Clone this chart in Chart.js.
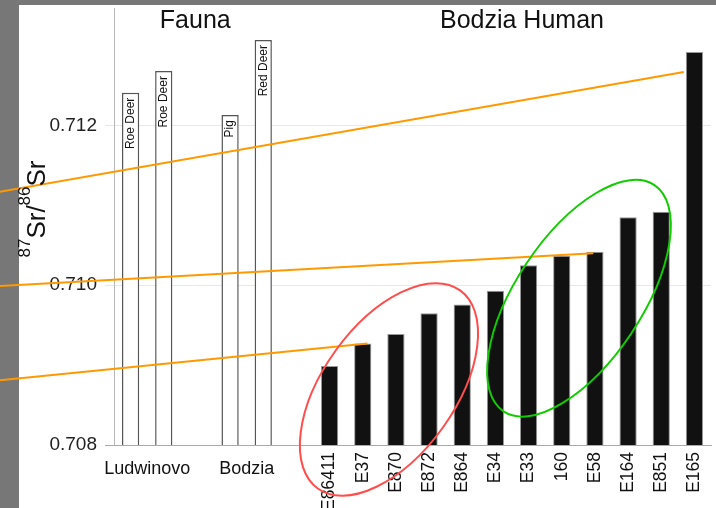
<!DOCTYPE html>
<html>
<head>
<meta charset="utf-8">
<script src="https://cdn.jsdelivr.net/npm/chart.js@4"></script>
<style>
  html, body { margin: 0; padding: 0; background: #fff; }
  canvas { display: block; }
</style>
</head>
<body>
<canvas id="srChart" width="716" height="508"></canvas>
<script>
// Chart data
const faunaNames = ['Roe Deer', 'Roe Deer', '', 'Pig', 'Red Deer'];
const faunaValues = [0.71241, 0.71268, null, 0.71213, 0.71307];
const humanIds = ['E86411', 'E37', 'E870', 'E872', 'E864', 'E34', 'E33', '160', 'E58', 'E164', 'E851', 'E165'];
const humanValues = [0.70899, 0.70927, 0.70939, 0.70965, 0.70976, 0.70993, 0.71025, 0.71037, 0.71042, 0.71085, 0.71092, 0.71292];
const yTicks = [0.708, 0.710, 0.712];

// site names under the fauna bars, placed at slot positions
const siteNames = ['Ludwinovo', 'Bodzia'];
const siteSlots = [0.5, 3.5];
const groupTitles = ['Fauna', 'Bodzia Human'];
const groupSlots = [1.95, 11.8];

// orange mixing lines (slot position, ratio)
const lineUpper = [{ x: -3.94, y: 0.71117 }, { x: 16.68, y: 0.71267 }];
const lineMiddle = [{ x: -3.94, y: 0.70999 }, { x: 13.95, y: 0.71040 }];
const lineLower = [{ x: -3.94, y: 0.70881 }, { x: 7.14, y: 0.70927 }];

// circled groups: centre (slot, ratio)
const redGroup = { x: 7.79, y: 0.708695 };
const greenGroup = { x: 13.52, y: 0.709837 };

const FONT = "'Liberation Sans', Arial, sans-serif";

// one empty slot between the fauna and the human bars
const slotLabels = faunaNames.concat([''], humanIds);
const faunaData = faunaValues.concat(new Array(1 + humanIds.length).fill(null));
const humanData = new Array(faunaNames.length + 1).fill(null).concat(humanValues);

const decor = {
    id: 'decor',
    beforeDraw(chart) {
        const ctx = chart.ctx;
        ctx.save();
        ctx.fillStyle = '#777';
        ctx.fillRect(0, 0, chart.width, chart.height);
        ctx.fillStyle = '#fff';
        ctx.fillRect(19, 5, chart.width - 19, chart.height - 5);
        ctx.restore();
    },
    afterDatasetsDraw(chart) {
        // species names inside the fauna bars
        const ctx = chart.ctx;
        const meta = chart.getDatasetMeta(3);
        ctx.save();
        ctx.fillStyle = '#111';
        ctx.font = '12px ' + FONT;
        ctx.textAlign = 'right';
        ctx.textBaseline = 'middle';
        faunaNames.forEach((name, i) => {
            const bar = meta.data[i];
            if (!name || !bar) return;
            ctx.save();
            ctx.translate(bar.x, bar.y + 5);
            ctx.rotate(-Math.PI / 2);
            ctx.fillText(name, 0, 0);
            ctx.restore();
        });
        ctx.restore();
    },
    afterDraw(chart) {
        const ctx = chart.ctx;
        const x = chart.scales.x;
        const y = chart.scales.y;
        const bottom = chart.chartArea.bottom;
        ctx.save();
        ctx.fillStyle = '#111';

        // group titles
        ctx.font = '25px ' + FONT;
        ctx.textAlign = 'center';
        ctx.textBaseline = 'alphabetic';
        groupTitles.forEach((t, i) => ctx.fillText(t, x.getPixelForValue(groupSlots[i]), 28));

        // site names
        ctx.font = '18px ' + FONT;
        siteNames.forEach((t, i) => ctx.fillText(t, x.getPixelForValue(siteSlots[i]), bottom + 29));

        // human sample ids, rotated
        ctx.font = '17.5px ' + FONT;
        ctx.textAlign = 'right';
        ctx.textBaseline = 'middle';
        humanIds.forEach((id, i) => {
            const px = x.getPixelForValue(faunaNames.length + 1 + i);
            ctx.save();
            ctx.translate(px, bottom + 7);
            ctx.rotate(-Math.PI / 2);
            ctx.fillText(id, 0, 0);
            ctx.restore();
        });

        // y axis title with superscripts
        const big = '26px ' + FONT;
        const small = '17px ' + FONT;
        const parts = [['87', small, -15], ['Sr/', big, 0], ['86', small, -15], ['Sr', big, 0]];
        let total = 0;
        parts.forEach(p => { ctx.font = p[1]; total += ctx.measureText(p[0]).width; });
        ctx.save();
        ctx.translate(45, 209);
        ctx.rotate(-Math.PI / 2);
        ctx.textAlign = 'left';
        ctx.textBaseline = 'alphabetic';
        let pos = -total / 2;
        parts.forEach(p => {
            ctx.font = p[1];
            ctx.fillText(p[0], pos, p[2]);
            pos += ctx.measureText(p[0]).width;
        });
        ctx.restore();

        // circled groups
        ctx.lineWidth = 2;
        ctx.strokeStyle = '#ff4d4d';
        ctx.beginPath();
        ctx.ellipse(x.getPixelForValue(redGroup.x), y.getPixelForValue(redGroup.y), 122, 66, -54.3 * Math.PI / 180, 0, Math.PI * 2);
        ctx.stroke();
        ctx.strokeStyle = '#11cc00';
        ctx.beginPath();
        ctx.ellipse(x.getPixelForValue(greenGroup.x), y.getPixelForValue(greenGroup.y), 136, 63, -56.3 * Math.PI / 180, 0, Math.PI * 2);
        ctx.stroke();
        ctx.restore();
    }
};

const mixLine = (data) => ({
    type: 'line',
    data: data,
    xAxisID: 'xl',
    yAxisID: 'y',
    borderColor: '#ff9900',
    borderWidth: 2,
    pointRadius: 0,
    clip: false,
    order: 0
});

new Chart(document.getElementById('srChart').getContext('2d'), {
    type: 'bar',
    data: {
        labels: slotLabels,
        datasets: [
            mixLine(lineUpper),
            mixLine(lineMiddle),
            mixLine(lineLower),
            {
                label: 'Fauna',
                data: faunaData,
                backgroundColor: '#fff',
                borderColor: '#555',
                borderWidth: 1.5,
                grouped: false,
                barPercentage: 0.52,
                categoryPercentage: 1,
                order: 1
            },
            {
                label: 'Bodzia Human',
                data: humanData,
                backgroundColor: '#111',
                borderColor: '#999',
                borderWidth: 1,
                grouped: false,
                barPercentage: 0.52,
                categoryPercentage: 1,
                order: 1
            }
        ]
    },
    options: {
        responsive: false,
        devicePixelRatio: 1,
        animation: false,
        layout: { padding: { left: 0, right: 5, top: 8, bottom: 0 } },
        plugins: {
            legend: { display: false },
            tooltip: { enabled: false }
        },
        scales: {
            x: {
                type: 'category',
                ticks: { display: false },
                grid: { display: false },
                border: { display: true, color: '#aaa' },
                afterFit(scale) { scale.height = 63; }
            },
            xl: {
                type: 'linear',
                display: false,
                offset: false,
                grid: { offset: false },
                min: -0.5,
                max: 17.5
            },
            y: {
                min: 0.708,
                max: 0.71347,
                afterBuildTicks(scale) { scale.ticks = yTicks.map(v => ({ value: v })); },
                afterFit(scale) {
                    scale.width = 114;
                    scale.paddingTop = 0;
                    scale.paddingBottom = 0;
                },
                ticks: {
                    padding: 8,
                    color: '#222',
                    font: { family: FONT, size: 19 },
                    callback: v => v.toFixed(3)
                },
                grid: {
                    tickLength: 9,
                    color: ctx => ctx.tick && ctx.tick.value === 0.708 ? '#aaa' : '#e8e8e8'
                },
                border: { display: true, color: '#b8b8b8' }
            }
        }
    },
    plugins: [decor]
});
</script>
</body>
</html>
